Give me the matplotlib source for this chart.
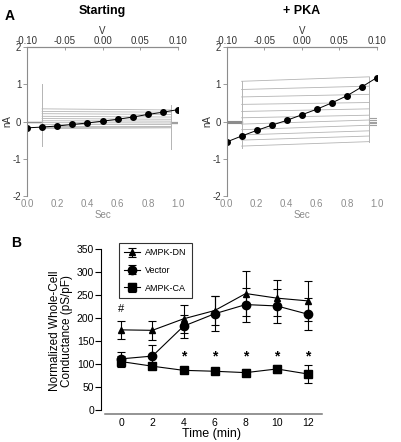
import numpy as np
import matplotlib.pyplot as plt

plt.rcParams['font.family'] = ['Liberation Sans', 'DejaVu Sans']

# ---- panel A: I-V data (dots), one per voltage step ----
iv_volts = [-0.10, -0.08, -0.06, -0.04, -0.02, 0.00, 0.02, 0.04, 0.06, 0.08, 0.10]
iv_start = [-0.17, -0.15, -0.12, -0.08, -0.04, 0.01, 0.06, 0.12, 0.19, 0.25, 0.32]
iv_pka = [-0.55, -0.39, -0.24, -0.10, 0.03, 0.18, 0.33, 0.50, 0.69, 0.93, 1.18]

# current traces: level at step onset (0.1 s) and at step end (0.95 s)
trace_on_start = [-0.19, -0.16, -0.12, -0.08, -0.03, 0.02, 0.08, 0.14, 0.21, 0.27, 0.34]
trace_off_start = [-0.17, -0.15, -0.12, -0.08, -0.04, 0.01, 0.06, 0.12, 0.19, 0.25, 0.31]
trace_on_pka = [-0.66, -0.50, -0.36, -0.22, -0.07, 0.10, 0.27, 0.46, 0.66, 0.86, 1.08]
trace_off_pka = [-0.54, -0.39, -0.25, -0.10, 0.04, 0.17, 0.34, 0.51, 0.73, 0.95, 1.20]
tail_start = [-0.05, -0.04, -0.03, -0.02, -0.01]
tail_pka = [-0.10, -0.05, 0.00, 0.05, 0.10]

# spikes (capacitive transients) at step on / off: (low, high)
spike_on = {'start': (-0.65, 1.02), 'pka': (-0.70, 1.10)}
spike_off = {'start': (-0.75, 0.45), 'pka': (-0.56, 1.20)}

# ---- panel B: conductance vs time ----
time_min = [0, 2, 4, 6, 8, 10, 12]
dn_mean = [174, 173, 198, 216, 253, 243, 237]
dn_err = [19, 20, 30, 32, 48, 39, 44]
vec_mean = [111, 117, 182, 209, 229, 226, 208]
vec_err = [15, 23, 25, 38, 37, 37, 35]
ca_mean = [105, 95, 86, 84, 81, 89, 78]
ca_err = [12, 7, 5, 5, 8, 9, 19]
star_times = [4, 6, 8, 10, 12]
star_level = 116
hash_time = 0
hash_level = 219

fig = plt.figure(figsize=(4.01, 4.42), dpi=100)

gray = '#8c8c8c'
trace_gray = '#b4b4b4'


def draw_panel(rect, title, iv, on_lv, off_lv, tail, key):
    ax = fig.add_axes(rect)
    t = np.linspace(0, 1, len(iv))
    # baseline before the step
    for lv in tail:
        ax.plot([0.0, 0.1], [lv * 0.2 - 0.01, lv * 0.2 - 0.01], color=gray, lw=0.8)
    for a, b in zip(on_lv, off_lv):
        ax.plot([0.1, 0.95], [a, b], color=trace_gray, lw=0.6)
    for lv in tail:
        ax.plot([0.95, 1.0], [lv, lv], color='#a0a0a0', lw=0.8)
    lo, hi = spike_on[key]
    ax.plot([0.1, 0.1], [lo, hi], color=trace_gray, lw=0.7)
    lo, hi = spike_off[key]
    ax.plot([0.95, 0.95], [lo, hi], color=trace_gray, lw=0.7)
    ax.plot(t, iv, color='black', lw=0.7, marker='o', ms=4)

    ax.set_xlim(0, 1)
    ax.set_ylim(-2, 2)
    for s in ['right', 'bottom']:
        ax.spines[s].set_visible(False)
    ax.spines['left'].set_color(gray)
    ax.spines['top'].set_color(gray)
    ax.set_yticks([-2, -1, 0, 1, 2])
    ax.set_yticklabels(['-2', '-1', '0', '1', '2'])
    ax.tick_params(axis='y', labelsize=7, length=3, width=0.6, color=gray, labelcolor='#333333', pad=1)
    ax.set_xticks([0, 0.2, 0.4, 0.6, 0.8, 1.0])
    ax.set_xticklabels(['0.0', '0.2', '0.4', '0.6', '0.8', '1.0'])
    ax.tick_params(axis='x', labelsize=7, length=0, labelcolor=gray, pad=2)
    ax.set_xlabel('Sec', fontsize=7, color=gray, labelpad=1)
    ax.set_ylabel('nA', fontsize=7, color='#333333', labelpad=0)

    top = ax.secondary_xaxis('top', functions=(lambda x: x * 0.2 - 0.1, lambda v: (v + 0.1) / 0.2))
    top.set_xticks([-0.10, -0.05, 0.0, 0.05, 0.10])
    top.set_xticklabels(['-0.10', '-0.05', '0.00', '0.05', '0.10'])
    top.tick_params(labelsize=7, length=2, width=0.6, color=gray, direction='in', labelcolor='#333333', pad=1)
    top.spines['top'].set_color(gray)
    top.set_xlabel('V', fontsize=7, color='#333333', labelpad=1)
    ax.set_title(title, fontsize=9, fontweight='bold', pad=24)
    return ax


draw_panel([0.0673, 0.5566, 0.377, 0.337], 'Starting', iv_start, trace_on_start, trace_off_start, tail_start, 'start')
draw_panel([0.565, 0.5566, 0.375, 0.337], '+ PKA', iv_pka, trace_on_pka, trace_off_pka, tail_pka, 'pka')

fig.text(0.012, 0.98, 'A', fontsize=10, fontweight='bold', va='top')
fig.text(0.028, 0.465, 'B', fontsize=10, fontweight='bold', va='top')

# ---- panel B ----
axb = fig.add_axes([0.252, 0.0633, 0.551, 0.3756])
ebkw = dict(color='black', lw=0.8, capsize=3, elinewidth=0.8, capthick=0.8)
axb.errorbar(time_min, dn_mean, yerr=dn_err, marker='^', ms=4.5, label='AMPK-DN', **ebkw)
axb.errorbar(time_min, vec_mean, yerr=vec_err, marker='o', ms=6, label='Vector', **ebkw)
axb.errorbar(time_min, ca_mean, yerr=ca_err, marker='s', ms=6, label='AMPK-CA', **ebkw)
for tt in star_times:
    axb.text(tt, star_level, '*', ha='center', va='center', fontsize=10, fontweight='bold')
axb.text(hash_time, hash_level, '#', ha='center', va='center', fontsize=8)

axb.set_xlim(-1.3, 12.9)
axb.set_ylim(-9, 352)
axb.spines['top'].set_visible(False)
axb.spines['right'].set_visible(False)
axb.spines['left'].set_bounds(0, 350)
axb.spines['bottom'].set_bounds(-1.03, 12.9)
axb.spines['bottom'].set_color('#777777')
axb.spines['bottom'].set_linewidth(1.1)
axb.spines['left'].set_linewidth(0.8)
axb.set_yticks(range(0, 351, 50))
axb.set_xticks(time_min)
axb.tick_params(axis='y', labelsize=7.5, length=4, width=0.8, pad=1)
axb.tick_params(axis='x', labelsize=7.5, length=0, pad=3)
axb.set_xlabel('Time (min)', fontsize=9, labelpad=0)
axb.set_ylabel('Normalized Whole-Cell\nConductance (pS/pF)', fontsize=8.5, labelpad=3, linespacing=0.95)

leg = axb.legend(loc='upper left', fontsize=6.5, frameon=True, fancybox=False, edgecolor='black',
                 handlelength=1.7, borderpad=0.6, labelspacing=0.95, handletextpad=0.6,
                 borderaxespad=0.0)
leg.get_frame().set_linewidth(0.8)
leg.set_bbox_to_anchor((119 / 401, 1 - 243 / 442), transform=fig.transFigure)

fig.savefig('out.png', dpi=100)
